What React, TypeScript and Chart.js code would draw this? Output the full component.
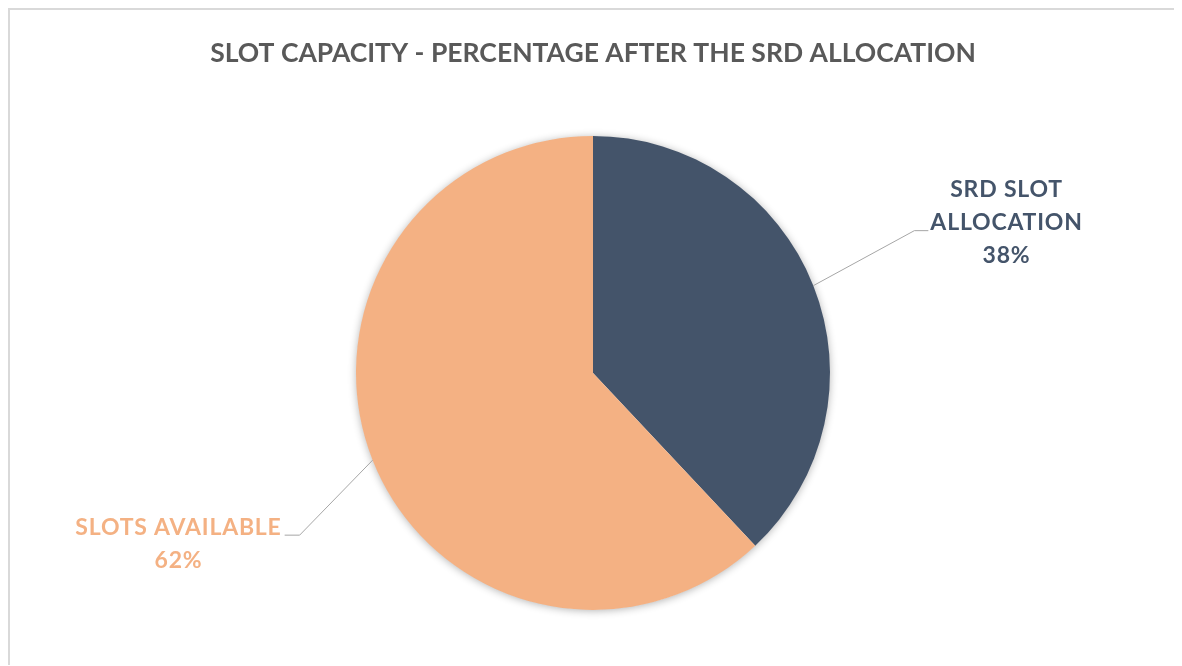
import React, { useEffect, useRef } from "react";
import { Chart, registerables } from "chart.js";

Chart.register(...registerables);

const TITLE = "SLOT CAPACITY - PERCENTAGE AFTER THE SRD ALLOCATION";
const categories = ["SRD SLOT ALLOCATION", "SLOTS AVAILABLE"];
const labelLines = [["SRD SLOT", "ALLOCATION"], ["SLOTS AVAILABLE"]];
const values = [38, 62];
const colors = ["#44546A", "#F4B183"];

// leader-line layout (offsets from slice edge mid-point), styling only
const LABEL_LAYOUT = [
  { dx: 101, dy: -55, hook: 14, firstLineDy: -41 },
  { dx: -73, dy: 75, hook: -15, firstLineDy: -8 },
];
const LABEL_FONT = "bold 23px Lato";
const LABEL_SPACING = "0.8px";
const LINE_H = 33;

const labelPlugin = {
  id: "outLabels",
  beforeDatasetsDraw(chart: any) {
    const ctx = chart.ctx;
    const meta = chart.getDatasetMeta(0);
    const arc = meta.data[0];
    if (!arc) return;
    const { x, y, outerRadius } = arc.getProps(["x", "y", "outerRadius"], true);
    ctx.save();
    ctx.shadowColor = "rgba(0,0,0,0.32)";
    ctx.shadowBlur = 9;
    ctx.shadowOffsetX = 0;
    ctx.shadowOffsetY = 1;
    ctx.fillStyle = "#FFFFFF";
    ctx.beginPath();
    ctx.arc(x, y, outerRadius - 0.5, 0, Math.PI * 2);
    ctx.fill();
    ctx.restore();
  },
  afterDatasetsDraw(chart: any) {
    const ctx = chart.ctx;
    const meta = chart.getDatasetMeta(0);
    const total = values.reduce((a, b) => a + b, 0);
    meta.data.forEach((arc: any, i: number) => {
      const { x, y, startAngle, endAngle, outerRadius } = arc.getProps(
        ["x", "y", "startAngle", "endAngle", "outerRadius"],
        true
      );
      const mid = (startAngle + endAngle) / 2;
      const ex = x + Math.cos(mid) * outerRadius;
      const ey = y + Math.sin(mid) * outerRadius;
      const cfg = LABEL_LAYOUT[i];
      const bx = ex + cfg.dx;
      const by = ey + cfg.dy;
      const hx = bx + cfg.hook;
      ctx.save();
      ctx.strokeStyle = "#A6A6A6";
      ctx.lineWidth = 1;
      ctx.beginPath();
      ctx.moveTo(ex, ey);
      ctx.lineTo(bx, by);
      ctx.lineTo(hx, by);
      ctx.stroke();

      const lines = [...labelLines[i], Math.round((values[i] / total) * 100) + "%"];
      ctx.font = LABEL_FONT;
      (ctx as any).letterSpacing = LABEL_SPACING;
      const maxW = Math.max(...lines.map((l) => ctx.measureText(l).width));
      const right = cfg.hook > 0;
      const cx = right ? hx + 2 + maxW / 2 : hx - 3 - maxW / 2;
      ctx.fillStyle = colors[i];
      ctx.textAlign = "center";
      ctx.textBaseline = "middle";
      lines.forEach((l, k) => {
        ctx.fillText(l, cx, by + cfg.firstLineDy + k * LINE_H);
      });
      ctx.restore();
    });
  },
};

export default function App() {
  const ref = useRef<HTMLCanvasElement | null>(null);
  useEffect(() => {
    if (!ref.current) return;
    const chart = new Chart(ref.current, {
      type: "pie",
      data: {
        labels: categories,
        datasets: [
          {
            data: values,
            backgroundColor: colors,
            borderWidth: 0,
            radius: 237,
          } as any,
        ],
      },
      options: {
        animation: false,
        responsive: false,
        layout: { padding: { top: 0, bottom: 8, left: 0, right: 0 } },
        plugins: {
          legend: { display: false },
          tooltip: { enabled: false },
          title: {
            display: true,
            text: TITLE,
            color: "#595959",
            font: { family: "Lato", weight: "bold", size: 26.5 },
            padding: { top: 28, bottom: 19 },
          },
        },
      },
      plugins: [labelPlugin],
    });
    return () => chart.destroy();
  }, []);
  return (
    <div
      style={{
        width: 1166,
        height: 655,
        borderTop: "2px solid #D9D9D9",
        borderLeft: "2px solid #D9D9D9",
        borderRight: "2px solid #D9D9D9",
        background: "#FFFFFF",
      }}
    >
      <canvas ref={ref} width={1166} height={655} style={{ display: "block" }} />
    </div>
  );
}
